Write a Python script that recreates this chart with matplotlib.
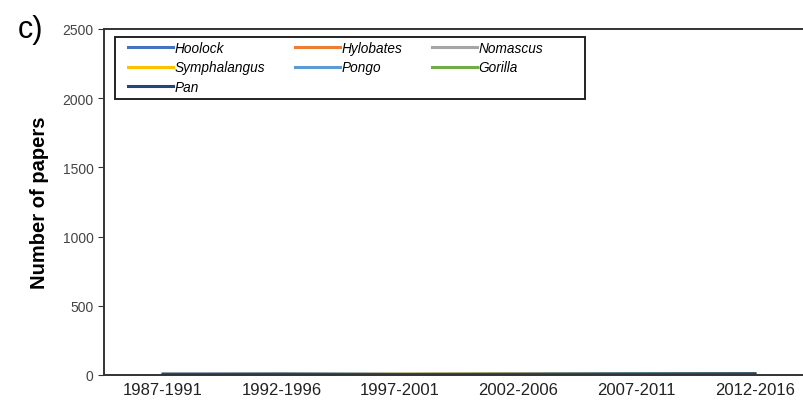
import numpy as np
import matplotlib.pyplot as plt
from matplotlib.patches import Rectangle

plt.rcParams['font.family'] = ['Liberation Sans', 'DejaVu Sans']

periods = ["1987-1991", "1992-1996", "1997-2001", "2002-2006", "2007-2011", "2012-2016"]
genus = ["Hoolock", "Hylobates", "Nomascus", "Symphalangus", "Pongo", "Gorilla", "Pan"]
colors = ["#4472c4", "#ed7d31", "#a5a5a5", "#ffc000", "#5b9bd5", "#70ad47", "#264478"]

hoolock = [0, 0, 1, 1, 2, 3]
hylobates = [1, 1, 2, 3, 4, 5]
nomascus = [0, 0, 1, 2, 3, 4]
symphalangus = [0, 1, 6, 7, 5, 8]
pongo = [1, 2, 3, 4, 8, 6]
gorilla = [2, 6, 4, 5, 6, 7]
pan = [7, 7, 5, 6, 7, 9]
series = [hoolock, hylobates, nomascus, symphalangus, pongo, gorilla, pan]

fig = plt.figure(figsize=(8.04, 4.10), dpi=100)
ax = fig.add_axes([104/804, 1-376/410, 710/804, 346/410])

x = np.arange(len(periods))
lines = {}
for name, vals, c in zip(genus, series, colors):
    lines[name], = ax.plot(x, vals, color=c, lw=2.2, label=name)

ax.set_xlim(-0.5, 5.5)
ax.set_ylim(0, 2500)
ax.set_yticks(np.arange(0, 2501, 500))
ax.set_xticks(x)
ax.set_xticklabels(periods, fontsize=12, color="#222222")
ax.tick_params(axis="x", length=0, pad=5)
ax.tick_params(axis="y", labelsize=10, labelcolor="#444444", length=4, direction="out", color="#333333")
for s in ax.spines.values():
    s.set_color("#333333")
    s.set_linewidth(1.4)

ax.set_ylabel("Number of papers", fontsize=14.5, fontweight="bold", labelpad=10)

# row-wise legend order like the original (matplotlib fills by column)
order = ["Hoolock", "Symphalangus", "Pan", "Hylobates", "Pongo", "Nomascus", "Gorilla"]
leg = ax.legend([lines[n] for n in order], order, ncol=3, loc="upper left",
                bbox_to_anchor=(0.034, 0.966), frameon=False,
                handlelength=3.3, handletextpad=0.1,
                columnspacing=2.2, labelspacing=0.42, borderpad=0, borderaxespad=0,
                prop={"style": "italic", "size": 9.8})
# legend box drawn separately (wider side padding than matplotlib gives)
ax.add_patch(Rectangle((0.0155, 0.798), 0.662, 0.179, transform=ax.transAxes,
                       fill=False, edgecolor="#222222", lw=1.4, zorder=5))

fig.text(18/804, 1-30/410, "c)", fontsize=22, va="center", ha="left")

fig.savefig("out.png", dpi=100)
